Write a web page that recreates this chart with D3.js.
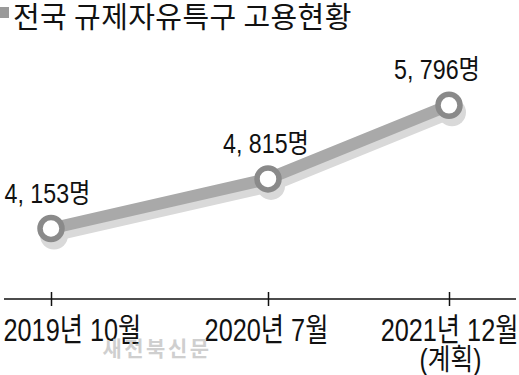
<!DOCTYPE html>
<html>
<head>
<meta charset="utf-8">
<script src="https://cdn.jsdelivr.net/npm/d3@7"></script>
<style>
  body { margin: 0; background: #fff; }
  text { font-family: "Liberation Sans", "Noto Sans CJK KR", sans-serif; }
  .kr { font-family: "Noto Sans CJK KR", sans-serif; }
</style>
</head>
<body>
<div id="chart"></div>
<script>
// data
var periods = ["2019년 10월", "2020년 7월", "2021년 12월"];
var subLabels = ["", "", "(계획)"];
var employees = [4153, 4815, 5796];
var title = "전국 규제자유특구 고용현황";
var credit = "새전북신문";

var width = 519, height = 375;

var svg = d3.select("#chart").append("svg")
    .attr("width", width)
    .attr("height", height);

// scales (uneven spacing between the periods as in the print graphic)
var x = d3.scaleLinear().domain([0, 1, 2]).range([51, 268, 449]);
var y = d3.scaleLinear().domain([3000, 6000]).range([315, 90]);

// title
svg.append("rect")
    .attr("x", 0).attr("y", 7)
    .attr("width", 9).attr("height", 11)
    .attr("fill", "#9a9a9a");

svg.append("text")
    .attr("class", "kr")
    .attr("x", 13)
    .attr("y", 28)
    .style("font-size", "29px")
    .style("letter-spacing", "0.4px")
    .attr("fill", "#111")
    .text(title);

// axis
var axis = d3.axisBottom(x)
    .tickValues([0, 1, 2])
    .tickSize(7)
    .tickFormat(function (i) { return periods[i]; });

var gAxis = svg.append("g")
    .attr("transform", "translate(0,299)")
    .call(axis);

gAxis.select(".domain").remove();
gAxis.insert("line", ":first-child")
    .attr("x1", 4).attr("x2", 516)
    .attr("stroke", "#111").attr("stroke-width", 1.5);
gAxis.selectAll(".tick line")
    .attr("y1", -7).attr("y2", 7)
    .attr("stroke", "#111").attr("stroke-width", 1.5);

// condensed labels: first one pinned to the left edge, last to the right edge
var sx = 0.79;
gAxis.selectAll(".tick text")
    .attr("x", 0).attr("y", 0).attr("dy", null)
    .style("font-size", "32px")
    .attr("fill", "#111")
    .attr("text-anchor", function (i) { return i === 0 ? "start" : i === 2 ? "end" : "middle"; })
    .attr("transform", function (i) {
        var dx = i === 0 ? 3 - x(0) : i === 2 ? 518 - x(2) : -2;
        return "translate(" + dx + ",42) scale(" + sx + ",1)";
    });

gAxis.selectAll(".tick")
    .append("text")
    .attr("text-anchor", "middle")
    .style("font-size", "29px")
    .attr("fill", "#111")
    .attr("transform", "translate(1,71) scale(0.85,1)")
    .text(function (i) { return subLabels[i]; });

// watermark
svg.append("text")
    .attr("class", "kr")
    .attr("x", 157).attr("y", 356)
    .attr("text-anchor", "middle")
    .style("font-size", "21px")
    .style("font-weight", "bold")
    .style("letter-spacing", "2.5px")
    .attr("fill", "#cfcfcf")
    .text(credit);

// line
var idx = d3.range(employees.length);
var line = d3.line()
    .x(function (i) { return x(i); })
    .y(function (i) { return y(employees[i]); });

// shadow
var shadow = svg.append("g").attr("transform", "translate(3,7)");
shadow.append("path")
    .attr("d", line(idx))
    .attr("fill", "none")
    .attr("stroke", "#d9d9d9")
    .attr("stroke-width", 12);
shadow.selectAll("circle")
    .data(idx).enter().append("circle")
    .attr("cx", function (i) { return x(i); })
    .attr("cy", function (i) { return y(employees[i]); })
    .attr("r", 14)
    .attr("fill", "#d9d9d9");

svg.append("path")
    .attr("d", line(idx))
    .attr("fill", "none")
    .attr("stroke", "#a9a9a9")
    .attr("stroke-width", 12);

svg.selectAll("circle.pt")
    .data(idx).enter().append("circle")
    .attr("class", "pt")
    .attr("cx", function (i) { return x(i); })
    .attr("cy", function (i) { return y(employees[i]); })
    .attr("r", 11)
    .attr("fill", "#fff")
    .attr("stroke", "#8a8a8a")
    .attr("stroke-width", 5.5);

// value labels
var fmt = d3.format(",");
var labelX = [-3.5, -2, -12];
svg.selectAll("text.val")
    .data(idx).enter().append("text")
    .attr("class", "val")
    .attr("x", 0).attr("y", 0)
    .attr("text-anchor", "middle")
    .style("font-size", "27px")
    .attr("fill", "#111")
    .attr("transform", function (i) {
        return "translate(" + (x(i) + labelX[i]) + "," + (y(employees[i]) - 26) + ") scale(0.86,1)";
    })
    .text(function (i) { return fmt(employees[i]).replace(",", ", ") + "명"; });
</script>
</body>
</html>
